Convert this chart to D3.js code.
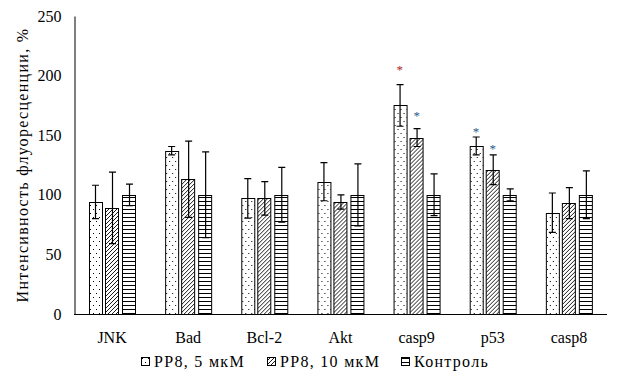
<!DOCTYPE html>
<html>
<head>
<meta charset="utf-8">
<script src="https://cdn.jsdelivr.net/npm/d3@7"></script>
<style>
  html, body { margin: 0; padding: 0; background: #fff; }
  svg text { font-family: "Liberation Serif", "DejaVu Serif", serif; fill: #000; }
</style>
</head>
<body>
<svg id="chart" width="626" height="384"></svg>
<script>
// категории и ряды
var categories = ["JNK", "Bad", "Bcl-2", "Akt", "casp9", "p53", "casp8"];
var seriesNames = ["PP8, 5 мкМ", "PP8, 10 мкМ", "Контроль"];

var pp8_5 = [94, 137, 97, 111, 175, 141, 85];
var pp8_5_err = [14, 3.5, 16.5, 16, 17.5, 7.5, 16.5];
var pp8_10 = [89, 113, 97, 94, 148, 121, 93];
var pp8_10_err = [30, 32, 14, 6, 7.5, 12.5, 13];
var control = [100, 100, 100, 100, 100, 100, 100];
var control_err = [9, 36, 23, 26, 17.5, 5, 20];

// звёздочки значимости: категория, ряд, уровень по оси Y
var stars = [
    {cat: "casp9", s: 0, y: 206, color: "#b0202a"},
    {cat: "casp9", s: 1, y: 168, color: "#2a5a8f"},
    {cat: "p53", s: 0, y: 154, color: "#2a5a8f"},
    {cat: "p53", s: 1, y: 140, color: "#2a5a8f"}
];

var yTicks = [0, 50, 100, 150, 200, 250];

(function () {
    "use strict";

    var FONT = '"Liberation Serif", "DejaVu Serif", serif';
    var values = [pp8_5, pp8_10, control];
    var errors = [pp8_5_err, pp8_10_err, control_err];

    var svg = d3.select("#chart");
    var mLeft = 74, mRight = 607, mTop = 16, mBottom = 314;

    // шаблоны заливки
    var defs = svg.append("defs");
    var dots = defs.append("pattern").attr("id", "p-dots")
        .attr("patternUnits", "userSpaceOnUse").attr("width", 6).attr("height", 8);
    dots.append("rect").attr("width", 6).attr("height", 8).attr("fill", "#fff");
    dots.append("rect").attr("x", 1).attr("y", 1).attr("width", 1).attr("height", 1).attr("fill", "#000");
    dots.append("rect").attr("x", 4).attr("y", 5).attr("width", 1).attr("height", 1).attr("fill", "#000");

    var hatch = defs.append("pattern").attr("id", "p-hatch")
        .attr("patternUnits", "userSpaceOnUse").attr("width", 4).attr("height", 4);
    hatch.append("rect").attr("width", 4).attr("height", 4).attr("fill", "#fff");
    hatch.append("path").attr("d", "M-1,1 L1,-1 M0,4 L4,0 M3,5 L5,3")
        .attr("stroke", "#000").attr("stroke-width", 0.9);

    var horiz = defs.append("pattern").attr("id", "p-horiz")
        .attr("patternUnits", "userSpaceOnUse").attr("width", 4).attr("height", 4);
    horiz.append("rect").attr("width", 4).attr("height", 4).attr("fill", "#fff");
    horiz.append("rect").attr("x", 0).attr("y", 1).attr("width", 4).attr("height", 1).attr("fill", "#000");

    var fills = ["url(#p-dots)", "url(#p-hatch)", "url(#p-horiz)"];

    // шкалы
    var x = d3.scaleBand().domain(categories).range([mLeft, mRight]).padding(0);
    var bw = x.bandwidth();
    var xs = d3.scaleBand().domain([0, 1, 2])
        .range([bw / 2 - 23.5, bw / 2 + 23.5]).paddingInner(0.2);
    var y = d3.scaleLinear().domain([0, 250]).range([mBottom, mTop]);

    // ось Y
    var yAxis = svg.append("g")
        .attr("transform", "translate(" + (mLeft + 0.5) + ",0)")
        .call(d3.axisLeft(y).tickValues(yTicks).tickSize(0).tickPadding(13));
    yAxis.select(".domain").attr("stroke", "#000");
    yAxis.selectAll("text").attr("font-size", 16).style("font-family", FONT);

    svg.append("text")
        .attr("transform", "translate(28,165) rotate(-90)")
        .attr("text-anchor", "middle")
        .attr("font-size", 16)
        .style("font-family", FONT)
        .style("letter-spacing", "1.3px")
        .text("Интенсивность флуоресценции, %");

    // столбцы
    var groups = svg.append("g").selectAll("g")
        .data(categories).enter().append("g")
        .attr("transform", function (d) { return "translate(" + x(d) + ",0)"; });

    groups.each(function (cat, ci) {
        var g = d3.select(this);
        for (var s = 0; s < 3; s++) {
            var v = values[s][ci], e = errors[s][ci];
            var bx = xs(s), w = xs.bandwidth();
            g.append("rect")
                .attr("x", Math.round(bx) + 0.5)
                .attr("y", Math.round(y(v)) + 0.5)
                .attr("width", Math.round(w))
                .attr("height", Math.round(y(0)) - Math.round(y(v)))
                .attr("fill", fills[s])
                .attr("stroke", "#000").attr("stroke-width", 1);
            var cx = Math.round(bx + w / 2) + 0.5;
            g.append("path")
                .attr("d", "M" + cx + "," + y(v + e) + "V" + y(v - e) +
                    "M" + (cx - 3.5) + "," + y(v + e) + "H" + (cx + 3.5) +
                    "M" + (cx - 3.5) + "," + y(v - e) + "H" + (cx + 3.5))
                .attr("stroke", "#000").attr("stroke-width", 1.2).attr("fill", "none");
        }
    });

    // звёздочки
    svg.append("g").selectAll("text")
        .data(stars).enter().append("text")
        .attr("x", function (d) { return x(d.cat) + xs(d.s) + xs.bandwidth() / 2; })
        .attr("y", function (d) { return y(d.y) + 6; })
        .attr("text-anchor", "middle")
        .attr("font-size", 13)
        .style("font-family", FONT)
        .style("fill", function (d) { return d.color; })
        .text("*");

    // ось X
    svg.append("line")
        .attr("x1", mLeft).attr("x2", mRight)
        .attr("y1", mBottom + 0.5).attr("y2", mBottom + 0.5)
        .attr("stroke", "#000");

    svg.append("g").selectAll("text")
        .data(categories).enter().append("text")
        .attr("x", function (d) { return x(d) + bw / 2; })
        .attr("y", 343)
        .attr("text-anchor", "middle")
        .attr("font-size", 16)
        .style("font-family", FONT)
        .text(function (d) { return d; });

    // легенда
    var legendX = [141, 267, 401];
    var legend = svg.append("g").selectAll("g")
        .data(seriesNames).enter().append("g")
        .attr("transform", function (d, i) { return "translate(" + legendX[i] + ",357)"; });
    legend.append("rect")
        .attr("x", 0.5).attr("y", 0.5).attr("width", 8).attr("height", 8)
        .attr("fill", function (d, i) { return fills[i]; })
        .attr("stroke", "#000");
    legend.append("text")
        .attr("x", 13).attr("y", 10)
        .attr("font-size", 16)
        .style("font-family", FONT)
        .style("letter-spacing", "1.3px")
        .text(function (d) { return d; });
})();
</script>
</body>
</html>
